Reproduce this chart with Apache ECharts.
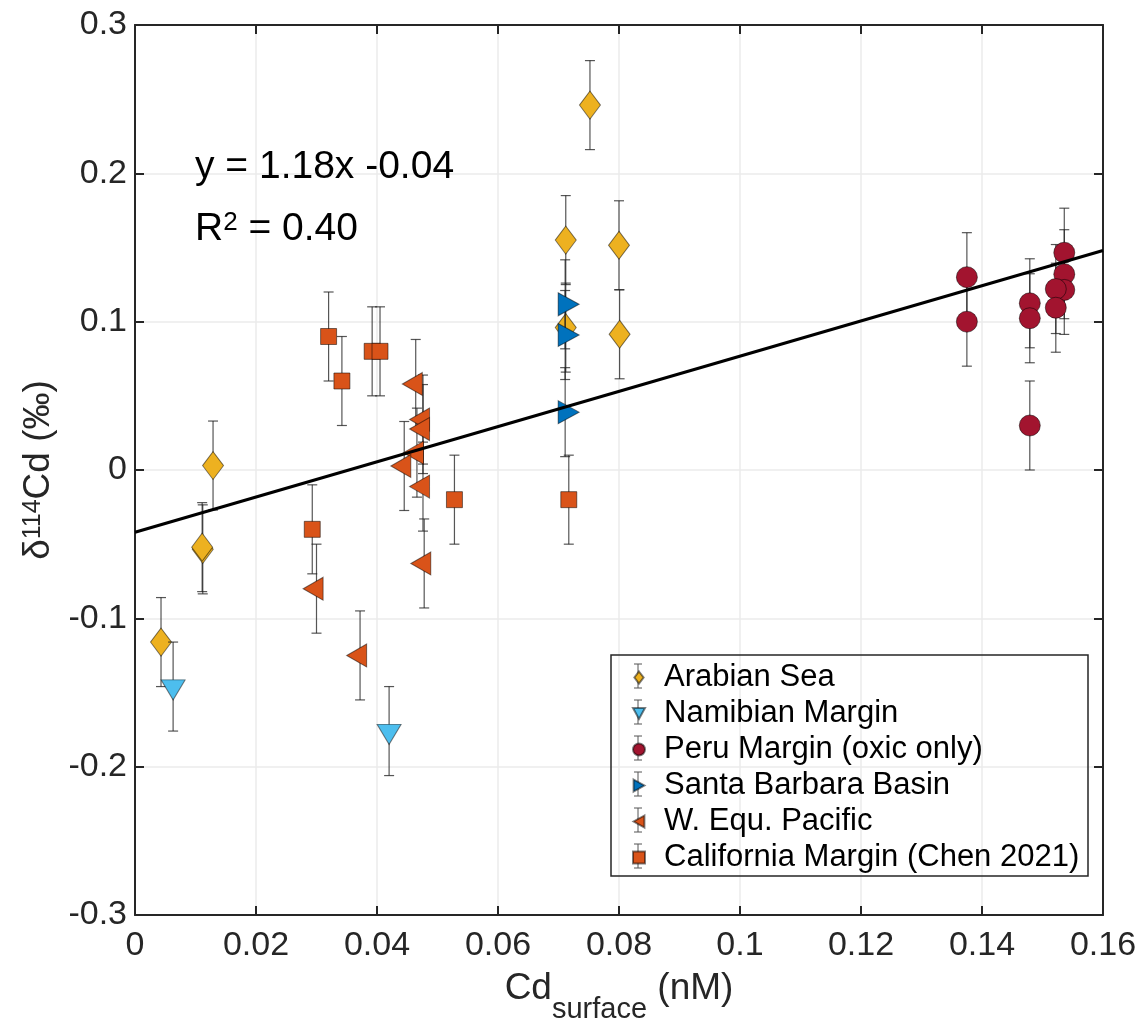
<!DOCTYPE html>
<html>
<head>
<meta charset="utf-8">
<script src="https://cdn.jsdelivr.net/npm/echarts@6/dist/echarts.min.js"></script>
<style>
html,body{margin:0;padding:0;background:#fff;}
#chart{width:1143px;height:1022px;}
</style>
</head>
<body>
<div id="chart"></div>
<script>
// ---------- data ----------
const seriesNames = ['Arabian Sea', 'Namibian Margin', 'Peru Margin (oxic only)', 'Santa Barbara Basin', 'W. Equ. Pacific', 'California Margin (Chen 2021)'];

const arabianX   = [0.0043, 0.0112, 0.0111, 0.0129, 0.0712, 0.0712, 0.0752, 0.0800, 0.0801];
const arabianY   = [-0.116, -0.0535, -0.052, 0.003, 0.155, 0.096, 0.246, 0.1515, 0.0915];
const arabianErr = [0.03, 0.03, 0.03, 0.03, 0.03, 0.03, 0.03, 0.03, 0.03];

const namibX   = [0.0063, 0.0420];
const namibY   = [-0.146, -0.176];
const namibErr = [0.03, 0.03];

const peruX   = [0.1375, 0.1375, 0.1479, 0.1479, 0.1479, 0.1536, 0.1536, 0.1536, 0.1522, 0.1522];
const peruY   = [0.130, 0.100, 0.1124, 0.1023, 0.030, 0.1465, 0.132, 0.1214, 0.122, 0.1094];
const peruErr = [0.03, 0.03, 0.03, 0.03, 0.03, 0.03, 0.03, 0.03, 0.03, 0.03];

const sbbX   = [0.0711, 0.0711, 0.0711];
const sbbY   = [0.1117, 0.091, 0.039];
const sbbErr = [0.03, 0.03, 0.03];

const wepX   = [0.0464, 0.0476, 0.0476, 0.0466, 0.0445, 0.0476, 0.0478, 0.0300, 0.0372];
const wepY   = [0.058, 0.034, 0.0276, 0.0117, 0.0027, -0.0112, -0.063, -0.080, -0.125];
const wepErr = [0.03, 0.03, 0.03, 0.03, 0.03, 0.03, 0.03, 0.03, 0.03];

const calX   = [0.0320, 0.0342, 0.0392, 0.0405, 0.0293, 0.0528, 0.0717];
const calY   = [0.090, 0.060, 0.080, 0.080, -0.040, -0.020, -0.020];
const calErr = [0.03, 0.03, 0.03, 0.03, 0.03, 0.03, 0.03];

const fitX = [0, 0.16];
const fitY = [-0.042, 0.148];

const xTickMin = 0, xTickMax = 0.16, xTickStep = 0.02;
const yTickMin = -0.3, yTickMax = 0.3, yTickStep = 0.1;

const fitText1 = 'y = 1.18x -0.04';
const fitText2 = '{a|R}{s|2}{a| = 0.40}';

// ---------- styling ----------
const FONT = '"Liberation Sans", Arial, Helvetica, sans-serif';
const AX = '#262626';
const colors = ['#EDB120', '#4DBEEE', '#A2142F', '#0072BD', '#D95319', '#D95319'];
const symbols = ['diamond', 'path://M0,0L2,0L1,2Z', 'circle', 'path://M0,0L2,1L0,2Z', 'path://M2,0L0,1L2,2Z', 'rect'];
const sizes = [[21, 28], [24, 20], 21, [21, 23], [20, 23], 16];
const offsets = [[0, 0], [0, 3.3], [0, 0], [3.5, 0], [-3.4, 0], [0, 0]];

const groups = [
  [arabianX, arabianY, arabianErr],
  [namibX, namibY, namibErr],
  [peruX, peruY, peruErr],
  [sbbX, sbbY, sbbErr],
  [wepX, wepY, wepErr],
  [calX, calY, calErr]
];

function zip3(xs, ys, es) { return xs.map((x, i) => [x, ys[i], es[i]]); }

function errRender(params, api) {
  const x = api.value(0), y = api.value(1), e = api.value(2);
  const t = api.coord([x, y + e]);
  const b = api.coord([x, y - e]);
  const cw = 5;
  const st = { stroke: 'rgba(30,30,30,0.75)', lineWidth: 1.2 };
  return {
    type: 'group',
    children: [
      { type: 'line', shape: { x1: t[0], y1: t[1], x2: b[0], y2: b[1] }, style: st },
      { type: 'line', shape: { x1: t[0] - cw, y1: t[1], x2: t[0] + cw, y2: t[1] }, style: st },
      { type: 'line', shape: { x1: b[0] - cw, y1: b[1], x2: b[0] + cw, y2: b[1] }, style: st }
    ]
  };
}

const series = [];
groups.forEach((g, i) => {
  const d = zip3(g[0], g[1], g[2]);
  series.push({
    name: seriesNames[i] + ' err',
    type: 'custom',
    renderItem: errRender,
    data: d,
    encode: { x: 0, y: 1 },
    z: 2 + i * 2,
    silent: true,
    animation: false
  });
  series.push({
    name: seriesNames[i],
    type: 'scatter',
    data: d,
    symbol: symbols[i],
    symbolSize: sizes[i],
    symbolOffset: offsets[i],
    itemStyle: { color: colors[i], borderColor: 'rgba(0,0,0,0.5)', borderWidth: 1, opacity: 1 },
    z: 3 + i * 2,
    animation: false
  });
});
series.push({
  name: 'fit',
  type: 'line',
  data: fitX.map((x, i) => [x, fitY[i]]),
  symbol: 'none',
  lineStyle: { color: '#000', width: 3 },
  z: 30,
  silent: true,
  animation: false
});

const legendIcons = ['path://M1,0L2,1.3L1,2.6L0,1.3Z', 'path://M0,0L2,0L1,1.8Z', 'circle', 'path://M0,0L1.8,1L0,2Z', 'path://M1.8,0L0,1L1.8,2Z', 'rect'];

const legendRowY = [676, 712, 748, 784, 820, 856];
const legendGraphics = [
  { type: 'rect', z: 1, shape: { x: 611, y: 655, width: 477, height: 221 }, style: { fill: 'rgba(255,255,255,0)', stroke: AX, lineWidth: 1.5 } }
];
legendRowY.forEach(yc => {
  const st = { stroke: '#555', lineWidth: 1 };
  legendGraphics.push({ type: 'line', z: 1, shape: { x1: 638, y1: yc - 12, x2: 638, y2: yc + 12 }, style: st });
  legendGraphics.push({ type: 'line', z: 1, shape: { x1: 634, y1: yc - 12, x2: 642, y2: yc - 12 }, style: st });
  legendGraphics.push({ type: 'line', z: 1, shape: { x1: 634, y1: yc + 12, x2: 642, y2: yc + 12 }, style: st });
});

const option = {
  backgroundColor: '#fff',
  animation: false,
  textStyle: { fontFamily: FONT },
  grid: { left: 135, right: 40, top: 25, bottom: 107, containLabel: false, outerBoundsMode: 'none' },
  xAxis: [
    {
      type: 'value', min: xTickMin, max: xTickMax, interval: xTickStep, position: 'bottom',
      axisLine: { show: true, onZero: false, lineStyle: { color: AX, width: 2 } },
      axisTick: { show: true, inside: true, length: 9, lineStyle: { color: AX, width: 2 } },
      axisLabel: { color: AX, fontSize: 34, fontFamily: FONT, margin: 14 },
      splitLine: { show: true, lineStyle: { color: '#ebebeb', width: 1.5 } },
      name: '{m|Cd}{s|surface}{m| (nM)}',
      nameLocation: 'middle',
      nameGap: 55,
      nameTextStyle: {
        color: AX, fontFamily: FONT,
        rich: {
          m: { fontSize: 37, fontFamily: FONT, color: AX, verticalAlign: 'top' },
          s: { fontSize: 29, fontFamily: FONT, color: AX, verticalAlign: 'bottom', padding: [25, 0, 0, 0] }
        }
      }
    },
    {
      type: 'value', min: xTickMin, max: xTickMax, interval: xTickStep, position: 'top',
      axisLine: { show: true, onZero: false, lineStyle: { color: AX, width: 2 } },
      axisTick: { show: true, inside: true, length: 9, lineStyle: { color: AX, width: 2 } },
      axisLabel: { show: false },
      splitLine: { show: false }
    }
  ],
  yAxis: [
    {
      type: 'value', min: yTickMin, max: yTickMax, interval: yTickStep, position: 'left',
      axisLine: { show: true, onZero: false, lineStyle: { color: AX, width: 2 } },
      axisTick: { show: true, inside: true, length: 9, lineStyle: { color: AX, width: 2 } },
      axisLabel: { color: AX, fontSize: 34, fontFamily: FONT, margin: 8 },
      splitLine: { show: true, lineStyle: { color: '#ebebeb', width: 1.5 } },
      name: '{m|δ}{s|114}{m|Cd (‰)}',
      nameLocation: 'middle',
      nameGap: 75,
      nameTextStyle: {
        color: AX, fontFamily: FONT,
        rich: {
          m: { fontSize: 37, fontFamily: FONT, color: AX, verticalAlign: 'bottom' },
          s: { fontSize: 25, fontFamily: FONT, color: AX, verticalAlign: 'top' }
        }
      }
    },
    {
      type: 'value', min: yTickMin, max: yTickMax, interval: yTickStep, position: 'right',
      axisLine: { show: true, onZero: false, lineStyle: { color: AX, width: 2 } },
      axisTick: { show: true, inside: true, length: 9, lineStyle: { color: AX, width: 2 } },
      axisLabel: { show: false },
      splitLine: { show: false }
    }
  ],
  legend: {
    orient: 'vertical',
    left: 611,
    top: 655,
    padding: [7, 8, 7, 21],
    itemGap: 5,
    itemWidth: 12,
    itemHeight: 12,
    borderWidth: 0,
    textStyle: { fontSize: 31, color: '#000', fontFamily: FONT, padding: [0, 0, 0, 14] },
    data: seriesNames.map((n, i) => ({ name: n, icon: legendIcons[i] })),
    selectedMode: false
  },
  graphic: [
    { type: 'text', z: 40, style: { x: 195, y: 167, text: fitText1, fontSize: 39, fontFamily: FONT, fill: '#000', verticalAlign: 'middle' } },
    { type: 'text', z: 40, style: { x: 195, y: 229, text: fitText2, fill: '#000', verticalAlign: 'middle',
        rich: { a: { fontSize: 39, fontFamily: FONT, fill: '#000', verticalAlign: 'bottom' }, s: { fontSize: 26, fontFamily: FONT, fill: '#000', verticalAlign: 'top' } } } }
  ].concat(legendGraphics),
  series: series
};

const chart = echarts.init(document.getElementById('chart'), null, { renderer: 'canvas' });
chart.setOption(option);
</script>
</body>
</html>
